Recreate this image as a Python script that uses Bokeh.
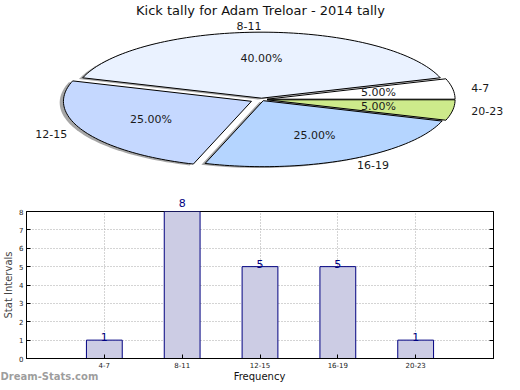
import numpy as np
from bokeh.plotting import figure
from bokeh.layouts import column
from bokeh.models import Range1d, LabelSet, ColumnDataSource, FixedTicker, LinearAxis
from bokeh.core.properties import value
from bokeh.embed import file_html
from bokeh.resources import INLINE

# ---------------- data ----------------
title = "Kick tally for Adam Treloar - 2014 tally"
categories = ["4-7", "8-11", "12-15", "16-19", "20-23"]
counts = [1, 8, 5, 5, 1]
y_ticks = [0, 1, 2, 3, 4, 5, 6, 7, 8]
x_label = "Frequency"
y_label = "Stat Intervals"
watermark = "Dream-Stats.com"

# ---------------- styles ----------------
slice_colors = ["#FFFFFF", "#EAF2FF", "#C5D8FF", "#B5D5FF", "#CDEA8B"]
explode = [0.03, 0.02, 0.06, 0.02, 0.03]
FONT = "DejaVu Sans"
NAVY = "#000080"
W = 512
H1 = 195
H2 = 175
H3 = 12

# ---------------- pie ----------------
pie = figure(width=W, height=H1, x_range=Range1d(0, W), y_range=Range1d(H1, 0),
             output_backend="svg", toolbar_location=None, min_border=0)
pie.frame_align = False
pie.axis.visible = False
pie.grid.visible = False
pie.outline_line_color = None

cx, cy, rx, ry = 261.0, 99.0, 188.0, 66.0
total = float(sum(counts))
fracs = [c / total for c in counts]

wx, wy, sx, sy = [], [], [], []
pct_x, pct_y, pct_t = [], [], []
lab_l = dict(x=[], y=[], t=[])
lab_r = dict(x=[], y=[], t=[])
start = 0.0
for f, e, cat in zip(fracs, explode, categories):
    t1 = start * 2 * np.pi
    t2 = (start + f) * 2 * np.pi
    mid = (t1 + t2) / 2
    ox = e * rx * np.cos(mid)
    oy = -e * ry * np.sin(mid)
    th = np.linspace(t1, t2, max(10, int(f * 240)))
    px = [cx + ox] + list(cx + ox + rx * np.cos(th))
    py = [cy + oy] + list(cy + oy - ry * np.sin(th))
    wx.append(px)
    wy.append(py)
    sx.append([v - 0.02 * rx for v in px])
    sy.append([v + 0.02 * ry for v in py])
    pct_x.append(cx + ox + 0.6 * rx * np.cos(mid))
    pct_y.append(cy + oy - 0.6 * ry * np.sin(mid))
    pct_t.append("%.2f%%" % (f * 100))
    lx = cx + ox + 1.1 * rx * np.cos(mid)
    ly = cy + oy - 1.1 * ry * np.sin(mid)
    d = lab_l if np.cos(mid) > 1e-9 else lab_r
    d["x"].append(lx)
    d["y"].append(ly)
    d["t"].append(cat)
    start += f

pie.patches(sx, sy, fill_color="#4d4d4d", fill_alpha=0.5, line_color=None)
pie.patches(wx, wy, fill_color=slice_colors, line_color="black", line_width=1)
txt = dict(text_font=value(FONT), text_font_size="11px", text_color="#1a1a1a", text_baseline="middle")
pie.text(pct_x, pct_y, text=pct_t, text_align="center", **txt)
pie.text(lab_l["x"], lab_l["y"], text=lab_l["t"], text_align="left", **txt)
pie.text(lab_r["x"], lab_r["y"], text=lab_r["t"], text_align="right", **txt)
pie.text([cx - 1], [10], text=[title], text_align="center", text_baseline="middle",
         text_font=value(FONT), text_font_size="13px", text_color="#111111")

# ---------------- bar ----------------
positions = list(range(1, len(categories) + 1))
y_max = y_ticks[-1]
bar = figure(width=W, height=H2, x_range=Range1d(0, len(categories) + 1),
             y_range=Range1d(y_ticks[0], y_max),
             output_backend="svg", toolbar_location=None,
             min_border_left=25, min_border_right=19, min_border_top=13, min_border_bottom=11)
bar.frame_align = False
bar.outline_line_color = "black"
bar.outline_line_width = 1

bar.vbar(x=positions, top=counts, width=0.46, fill_color="#CCCCE4", line_color=NAVY, line_width=1)

inside = [(p, c) for p, c in zip(positions, counts) if c < y_max]
src = ColumnDataSource(dict(x=[p for p, c in inside], y=[c for p, c in inside],
                            t=[str(c) for p, c in inside]))
bar.add_layout(LabelSet(x="x", y="y", text="t", source=src, text_align="center",
                        text_baseline="bottom", text_font=value(FONT), text_font_size="11px",
                        text_color=NAVY, y_offset=-1))

# value labels of bars that reach the top of the frame
at_top = [(p, c) for p, c in zip(positions, counts) if c >= y_max]
top_ax = LinearAxis(ticker=FixedTicker(ticks=[p for p, c in at_top]),
                    major_label_overrides={p: str(c) for p, c in at_top},
                    major_tick_line_color=None, minor_tick_line_color=None,
                    axis_line_color=None, major_label_standoff=-1,
                    major_label_text_font=FONT, major_label_text_font_size="11px",
                    major_label_text_color=NAVY)
bar.add_layout(top_ax, "above")

xax = bar.below[0]
yax = bar.left[0]
for ax in [xax, yax]:
    ax.major_tick_in = 4
    ax.major_tick_out = 0
    ax.minor_tick_line_color = None
    ax.axis_line_color = "black"
    ax.major_label_text_font = FONT
    ax.major_label_text_font_size = "7px"
    ax.major_label_text_color = "#222222"

xax.ticker = FixedTicker(ticks=positions)
xax.major_label_overrides = {p: c for p, c in zip(positions, categories)}
xax.major_label_standoff = 3
yax.ticker = FixedTicker(ticks=y_ticks)
yax.major_label_standoff = 3
yax.axis_label = y_label
yax.axis_label_text_font = FONT
yax.axis_label_text_font_size = "10px"
yax.axis_label_text_font_style = "normal"
yax.axis_label_standoff = 2

right = LinearAxis(ticker=FixedTicker(ticks=y_ticks), major_tick_in=4, major_tick_out=0,
                   minor_tick_line_color=None, major_label_text_alpha=0,
                   major_label_text_font_size="7px", axis_line_color="black")
bar.add_layout(right, "right")

bar.xgrid.ticker = FixedTicker(ticks=positions)
bar.ygrid.ticker = FixedTicker(ticks=y_ticks)
bar.grid.grid_line_color = "#a8a8a8"
bar.grid.grid_line_dash = "1 2"
bar.grid.grid_line_width = 1

# ---------------- footer (axis title + watermark) ----------------
foot = figure(width=W, height=H3, x_range=Range1d(0, W), y_range=Range1d(H3, 0),
              output_backend="svg", toolbar_location=None, min_border=0)
foot.frame_align = False
foot.axis.visible = False
foot.grid.visible = False
foot.outline_line_color = None
foot.text([259], [H3 / 2.0], text=[x_label], text_align="center", text_baseline="middle",
          text_font=value(FONT), text_font_size="10px", text_color="#111111")
foot.text([0], [H3 / 2.0], text=[watermark], text_align="left", text_baseline="middle",
          text_font=value(FONT), text_font_size="10px", text_font_style="bold",
          text_color="#8c8c8c", text_alpha=0.85)

layout = column(pie, bar, foot, spacing=0)
open("out.html", "w").write(file_html(layout, INLINE))
